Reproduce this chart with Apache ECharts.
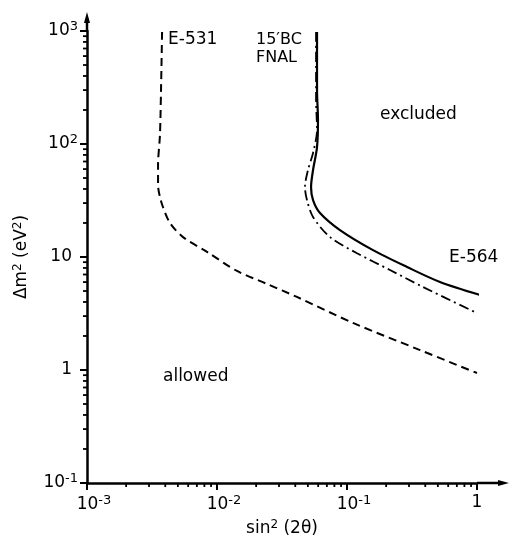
<!DOCTYPE html>
<html>
<head>
<meta charset="utf-8">
<script src="https://cdn.jsdelivr.net/npm/echarts@6/dist/echarts.min.js"></script>
<style>
html,body{margin:0;padding:0;background:#fff;}
#chart{width:510px;height:551px;}
</style>
</head>
<body>
<div id="chart"></div>
<script>
// ---- data (sin^2(2θ), Δm^2 [eV^2]) ----
var e531X = [0.00378, 0.00371, 0.00364, 0.00352, 0.00352, 0.00364, 0.00384, 0.00435, 0.00548, 0.00838, 0.01425, 0.0243, 0.0412, 0.1112, 0.365, 1.0];
var e531Y = [980, 301, 120, 65.2, 43.4, 33.9, 27.7, 20.0, 15.0, 11.1, 7.52, 5.77, 4.43, 2.61, 1.50, 0.94];

var e564X = [0.0588, 0.0588, 0.0598, 0.0588, 0.0548, 0.0529, 0.0548, 0.0620, 0.0883, 0.1585, 0.2896, 0.519, 1.055];
var e564Y = [980, 301, 163, 94.0, 58.9, 41.6, 31.9, 24.5, 17.3, 11.5, 8.16, 6.01, 4.61];

var fnalX = [0.0578, 0.0578, 0.0588, 0.0548, 0.0501, 0.0475, 0.0492, 0.0548, 0.0740, 0.1194, 0.214, 0.384, 1.0];
var fnalY = [980, 245, 133, 83.2, 58.9, 41.6, 31.9, 22.6, 15.0, 10.8, 7.67, 5.43, 3.19];

// axis ticks
var xMajor = [0.001, 0.01, 0.1, 1];
var yMajor = [0.1, 1, 10, 100, 1000];
var minorMult = [2, 3, 4, 5, 6, 7, 8, 9];
var xTickLabels = {'0.001': ['10', '-3'], '0.01': ['10', '-2'], '0.1': ['10', '-1'], '1': ['1', '']};
var yTickLabels = {'0.1': ['10', '-1'], '1': ['1', ''], '10': ['10', ''], '100': ['10', '2'], '1000': ['10', '3']};

function zip(xs, ys) { return xs.map(function (x, i) { return [x, ys[i]]; }); }
function minorOf(majors) {
  var out = [];
  for (var i = 0; i < majors.length - 1; i++) {
    minorMult.forEach(function (m) { out.push(majors[i] * m); });
  }
  return out;
}
var xMinor = minorOf(xMajor);
var yMinor = minorOf(yMajor);

var FONT = '"DejaVu Sans", sans-serif';
var chart = echarts.init(document.getElementById('chart'), null, {renderer: 'canvas'});

var rich = {
  b: {fontFamily: FONT, fontSize: 17, color: '#000'},
  s: {fontFamily: FONT, fontSize: 13, color: '#000', verticalAlign: 'bottom', padding: [0, 0, 8, 0]},
  sp: {width: 14},
  pad: {width: 6}
};
var nameRich = {
  b: {fontFamily: FONT, fontSize: 17, color: '#000'},
  s: {fontFamily: FONT, fontSize: 12, color: '#000', verticalAlign: 'bottom', padding: [0, 0, 7, 0]}
};

var option = {
  animation: false,
  backgroundColor: '#fff',
  grid: {left: 87, right: 33, top: 31, bottom: 68, containLabel: false},
  xAxis: {
    type: 'log', logBase: 10, min: 0.001, max: 1,
    name: '{b|sin}{s|2}{b| (2θ)}', nameLocation: 'middle', nameGap: 36,
    nameTextStyle: {rich: nameRich},
    axisLine: {lineStyle: {color: '#000', width: 2.5}},
    axisTick: {show: true, length: 7, lineStyle: {color: '#000', width: 2}},
    splitLine: {show: false},
    axisLabel: {
      margin: 11, color: '#000',
      formatter: function (v) {
        var k = String(+v.toPrecision(6));
        var t = xTickLabels[k];
        if (!t) return '';
        if (t[1]) return '{sp|}{b|' + t[0] + '}{s|' + t[1] + '}';
        return '{b|' + t[0] + '}';
      },
      rich: rich
    }
  },
  yAxis: {
    type: 'log', logBase: 10, min: 0.1, max: 1000,
    name: '{b|Δm}{s|2}{b| (eV}{s|2}{b|)}', nameLocation: 'middle', nameGap: 56, nameRotate: 90,
    nameTextStyle: {rich: nameRich},
    axisLine: {lineStyle: {color: '#000', width: 2.5}},
    axisTick: {show: true, length: 7, lineStyle: {color: '#000', width: 2}},
    splitLine: {show: false},
    axisLabel: {
      margin: 9, color: '#000',
      formatter: function (v) {
        var k = String(+v.toPrecision(6));
        var t = yTickLabels[k];
        if (!t) return '';
        if (t[1]) return '{b|' + t[0] + '}{s|' + t[1] + '}';
        return '{b|' + t[0] + '}{pad|}';
      },
      rich: rich
    }
  },
  series: [
    {
      name: 'E-531', type: 'line', data: zip(e531X, e531Y), smooth: 0.3,
      showSymbol: false, symbol: 'none',
      lineStyle: {color: '#000', width: 2, type: [8, 5]}
    },
    {
      name: 'E-564', type: 'line', data: zip(e564X, e564Y), smooth: 0.3,
      showSymbol: false, symbol: 'none',
      lineStyle: {color: '#000', width: 2.2, type: 'solid'}
    },
    {
      name: '15\'BC FNAL', type: 'line', data: zip(fnalX, fnalY), smooth: 0.3,
      showSymbol: false, symbol: 'none',
      lineStyle: {color: '#000', width: 1.8, type: [10, 4, 2, 4]}
    },
    {
      type: 'custom', silent: true, clip: false,
      data: xMinor.map(function (v) { return [v, 0.1]; }),
      renderItem: function (params, api) {
        var p = api.coord([api.value(0), api.value(1)]);
        return {type: 'line', shape: {x1: p[0], y1: p[1], x2: p[0], y2: p[1] + 4}, style: {stroke: '#000', lineWidth: 1.8}};
      }
    },
    {
      type: 'custom', silent: true, clip: false,
      data: yMinor.map(function (v) { return [0.001, v]; }),
      renderItem: function (params, api) {
        var p = api.coord([api.value(0), api.value(1)]);
        return {type: 'line', shape: {x1: p[0] - 4, y1: p[1], x2: p[0], y2: p[1]}, style: {stroke: '#000', lineWidth: 1.8}};
      }
    }
  ]
};
chart.setOption(option);

// axis extensions with arrow heads, placed from the library's own scales
var xEnd = chart.convertToPixel({gridIndex: 0}, [1, 0.1]);
var yEnd = chart.convertToPixel({gridIndex: 0}, [0.001, 1000]);
var xa = xEnd[0] + 32, ya = yEnd[1] - 19;

function txt(x, y, s, size) {
  return {type: 'text', x: x, y: y, silent: true,
    style: {text: s, fontFamily: FONT, fontSize: size || 17, fill: '#000', align: 'left', verticalAlign: 'middle'}};
}

chart.setOption({
  graphic: [
    {type: 'line', silent: true, shape: {x1: xEnd[0], y1: xEnd[1], x2: xa - 6, y2: xEnd[1]}, style: {stroke: '#000', lineWidth: 2.5}},
    {type: 'polygon', silent: true, shape: {points: [[xa, xEnd[1]], [xa - 11, xEnd[1] - 3], [xa - 11, xEnd[1] + 3]]}, style: {fill: '#000'}},
    {type: 'line', silent: true, shape: {x1: yEnd[0], y1: yEnd[1], x2: yEnd[0], y2: ya + 6}, style: {stroke: '#000', lineWidth: 2.5}},
    {type: 'polygon', silent: true, shape: {points: [[yEnd[0], ya], [yEnd[0] - 3, ya + 11], [yEnd[0] + 3, ya + 11]]}, style: {fill: '#000'}},
    txt(168, 40, 'E-531'),
    txt(256, 40, '15′BC', 16),
    txt(256, 58, 'FNAL', 16),
    txt(380, 115, 'excluded'),
    txt(449, 258, 'E-564'),
    txt(163, 377, 'allowed')
  ]
});
</script>
</body>
</html>
